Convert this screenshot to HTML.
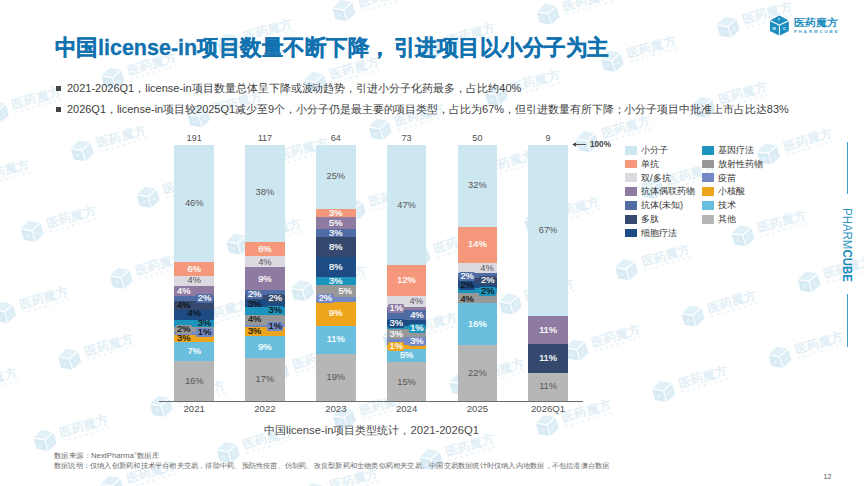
<!DOCTYPE html>
<html lang="zh"><head><meta charset="utf-8"><title>中国license-in项目数量不断下降</title>
<style>
html,body{margin:0;padding:0;background:#fff}
body{width:864px;height:486px;position:relative;overflow:hidden;font-family:"Liberation Sans", sans-serif;color:#333}
.a{position:absolute;white-space:nowrap;line-height:1}
.seg{position:absolute}
.lb{position:absolute;font-size:9.3px;line-height:9px;height:9px;-webkit-text-stroke:0.22px;width:40px;margin-left:-20px;margin-top:-4.5px;text-align:center;white-space:nowrap}
.lb.g{-webkit-text-stroke:0}
.lb span{display:inline-block;padding:0 1.5px;height:9px;line-height:9.2px;vertical-align:top;border-radius:1.5px}
.tot{position:absolute;font-size:9.1px;line-height:9px;width:40px;margin-left:-20px;text-align:center;color:#505050;top:133.8px}
.yr{position:absolute;font-size:9.6px;line-height:10px;width:60px;margin-left:-30px;text-align:center;color:#505050;top:404.3px}
.sw{position:absolute;width:12.4px;height:8.9px}
.lt{position:absolute;font-size:9.1px;line-height:10px;color:#333;white-space:nowrap}
#wm{position:absolute;left:0;top:0}
</style></head><body>
<svg id="wm" width="864" height="486" viewBox="0 0 864 486">
<defs><g id="w">
<g transform="translate(0.3 -0.2) scale(1.1)"><polygon points="0,-9.6 8.9,-5 0,-0.8 -8.9,-5" fill="#E2F0F7"/>
<polygon points="-9.4,-3.9 -0.5,0.3 -0.5,10.2 -9.4,5.8" fill="#D8EBF4"/>
<polygon points="9.4,-3.9 0.5,0.3 0.5,10.2 9.4,5.8" fill="#DCEDF5"/>
<text x="-7.2" y="4.7" font-size="4.2" font-weight="bold" fill="#EAF5FA" style="font-family:&quot;Liberation Sans&quot;,sans-serif">M</text><text x="3.5" y="4.8" font-size="4.2" font-weight="bold" fill="#EDF6FB" style="font-family:&quot;Liberation Sans&quot;,sans-serif">C</text></g>
<text x="16.8" y="1.5" font-size="11.8" font-weight="bold" textLength="50.3" lengthAdjust="spacingAndGlyphs" fill="#E3EFF6" style="font-family:&quot;Liberation Sans&quot;,sans-serif">医药魔方</text>
<text x="17.6" y="7.3" font-size="3.6" font-weight="bold" textLength="48" fill="#E6F1F7" style="font-family:&quot;Liberation Sans&quot;,sans-serif">PHARMCUBE</text>
</g></defs>
<use href="#w" transform="translate(-3.1 112.0) rotate(-16.5)"/>
<use href="#w" transform="translate(112.5 78.1) rotate(-16.5)"/>
<use href="#w" transform="translate(228.0 44.2) rotate(-16.5)"/>
<use href="#w" transform="translate(343.5 10.3) rotate(-16.5)"/>
<use href="#w" transform="translate(-34.6 184.9) rotate(-16.5)"/>
<use href="#w" transform="translate(81.9 150.7) rotate(-16.5)"/>
<use href="#w" transform="translate(198.4 116.6) rotate(-16.5)"/>
<use href="#w" transform="translate(314.9 82.4) rotate(-16.5)"/>
<use href="#w" transform="translate(431.4 48.2) rotate(-16.5)"/>
<use href="#w" transform="translate(547.8 14.0) rotate(-16.5)"/>
<use href="#w" transform="translate(31.8 231.2) rotate(-16.5)"/>
<use href="#w" transform="translate(147.8 197.1) rotate(-16.5)"/>
<use href="#w" transform="translate(263.8 163.1) rotate(-16.5)"/>
<use href="#w" transform="translate(379.8 129.1) rotate(-16.5)"/>
<use href="#w" transform="translate(495.8 95.0) rotate(-16.5)"/>
<use href="#w" transform="translate(611.8 61.0) rotate(-16.5)"/>
<use href="#w" transform="translate(727.8 27.0) rotate(-16.5)"/>
<use href="#w" transform="translate(4.3 312.3) rotate(-16.5)"/>
<use href="#w" transform="translate(120.8 278.1) rotate(-16.5)"/>
<use href="#w" transform="translate(237.3 243.9) rotate(-16.5)"/>
<use href="#w" transform="translate(353.8 209.8) rotate(-16.5)"/>
<use href="#w" transform="translate(470.2 175.6) rotate(-16.5)"/>
<use href="#w" transform="translate(586.7 141.4) rotate(-16.5)"/>
<use href="#w" transform="translate(703.2 107.2) rotate(-16.5)"/>
<use href="#w" transform="translate(-47.2 393.1) rotate(-16.5)"/>
<use href="#w" transform="translate(69.2 359.0) rotate(-16.5)"/>
<use href="#w" transform="translate(185.7 324.8) rotate(-16.5)"/>
<use href="#w" transform="translate(302.2 290.6) rotate(-16.5)"/>
<use href="#w" transform="translate(418.7 256.4) rotate(-16.5)"/>
<use href="#w" transform="translate(535.2 222.3) rotate(-16.5)"/>
<use href="#w" transform="translate(651.7 188.1) rotate(-16.5)"/>
<use href="#w" transform="translate(768.1 153.9) rotate(-16.5)"/>
<use href="#w" transform="translate(-71.7 474.4) rotate(-16.5)"/>
<use href="#w" transform="translate(44.6 440.3) rotate(-16.5)"/>
<use href="#w" transform="translate(160.9 406.2) rotate(-16.5)"/>
<use href="#w" transform="translate(277.2 372.0) rotate(-16.5)"/>
<use href="#w" transform="translate(393.5 337.9) rotate(-16.5)"/>
<use href="#w" transform="translate(509.8 303.8) rotate(-16.5)"/>
<use href="#w" transform="translate(626.1 269.7) rotate(-16.5)"/>
<use href="#w" transform="translate(742.4 235.6) rotate(-16.5)"/>
<use href="#w" transform="translate(-4.6 520.5) rotate(-16.5)"/>
<use href="#w" transform="translate(111.6 486.4) rotate(-16.5)"/>
<use href="#w" transform="translate(227.8 452.3) rotate(-16.5)"/>
<use href="#w" transform="translate(344.0 418.2) rotate(-16.5)"/>
<use href="#w" transform="translate(460.2 384.1) rotate(-16.5)"/>
<use href="#w" transform="translate(576.3 350.0) rotate(-16.5)"/>
<use href="#w" transform="translate(692.5 315.9) rotate(-16.5)"/>
<use href="#w" transform="translate(808.7 281.8) rotate(-16.5)"/>
<use href="#w" transform="translate(314.4 493.7) rotate(-16.5)"/>
<use href="#w" transform="translate(430.7 459.5) rotate(-16.5)"/>
<use href="#w" transform="translate(546.9 425.4) rotate(-16.5)"/>
<use href="#w" transform="translate(663.2 391.3) rotate(-16.5)"/>
<use href="#w" transform="translate(779.5 357.2) rotate(-16.5)"/>
</svg>
<div class="a" id="t1" style="left:54.5px;top:37.2px;font-size:22px;font-weight:bold;color:#1272B0;-webkit-text-stroke:0.3px #1272B0;transform-origin:0 50%;transform:scaleX(0.977)">中国license-in项目数量不断下降<span style="letter-spacing:3px">，</span>引进项目以小分子为主</div>
<div class="a" style="left:55.6px;top:86px;width:5px;height:5px;background:#444"></div>
<div class="a" style="left:55.6px;top:106.5px;width:5px;height:5px;background:#444"></div>
<div class="a" id="b1" style="left:66.5px;top:83.3px;font-size:11px;color:#404040">2021-2026Q1，license-in项目数量总体呈下降或波动趋势，引进小分子化药最多，占比约40%</div>
<div class="a" id="b2" style="left:66.5px;top:103.8px;font-size:11px;color:#404040">2026Q1，license-in项目较2025Q1减少至9个，小分子仍是最主要的项目类型，占比为67%，但引进数量有所下降；小分子项目中批准上市占比达83%</div>
<svg class="a" style="left:768px;top:13px" width="24" height="25" viewBox="0 0 24 25"><polygon points="11.4,2.6 20.3,7.2 11.4,11.4 2.5,7.2" fill="#1B8DBE"/><polygon points="2,8.3 10.9,12.5 10.9,22.4 2,18" fill="#1B8DBE"/><polygon points="20.8,8.3 11.9,12.5 11.9,22.4 20.8,18" fill="#1B8DBE"/><text x="10.1" y="8.3" font-size="3.2" font-weight="bold" fill="#cfe8f3" style="font-family:&quot;Liberation Sans&quot;,sans-serif">P</text><text x="4.2" y="16.9" font-size="4.2" font-weight="bold" fill="#e8f5fb" style="font-family:&quot;Liberation Sans&quot;,sans-serif">M</text><text x="14.9" y="17" font-size="4.2" font-weight="bold" fill="#e8f5fb" style="font-family:&quot;Liberation Sans&quot;,sans-serif">C</text></svg>
<div class="a" id="lg" style="left:793.6px;top:17.9px;font-size:9.8px;font-weight:bold;color:#1B8DBE;transform-origin:0 50%;transform:scaleX(1.1)">医药魔方</div>
<div class="a" id="lg2" style="left:794px;top:30.1px;font-size:4.3px;letter-spacing:1.95px;font-weight:bold;color:#3C9CC8">PHARMCUBE</div>
<div class="seg" style="left:174.4px;top:145.0px;width:39.5px;height:117.6px;background:#CDE7F1"></div>
<div class="seg" style="left:174.4px;top:262.3px;width:39.5px;height:14.0px;background:#F4977A"></div>
<div class="seg" style="left:174.4px;top:276.0px;width:39.5px;height:10.0px;background:#DDD9E1"></div>
<div class="seg" style="left:174.4px;top:285.7px;width:39.5px;height:10.6px;background:#8F7BA2"></div>
<div class="seg" style="left:174.4px;top:296.0px;width:39.5px;height:5.3px;background:#4F6CA4"></div>
<div class="seg" style="left:174.4px;top:301.0px;width:39.5px;height:8.8px;background:#34496D"></div>
<div class="seg" style="left:174.4px;top:309.5px;width:39.5px;height:10.4px;background:#1D4C84"></div>
<div class="seg" style="left:174.4px;top:319.6px;width:39.5px;height:7.5px;background:#1C94BE"></div>
<div class="seg" style="left:174.4px;top:326.8px;width:39.5px;height:5.6px;background:#989898"></div>
<div class="seg" style="left:174.4px;top:332.1px;width:39.5px;height:3.0px;background:#7389C5"></div>
<div class="seg" style="left:174.4px;top:334.8px;width:39.5px;height:7.4px;background:#EFA51B"></div>
<div class="seg" style="left:174.4px;top:341.9px;width:39.5px;height:19.8px;background:#6BBFDE"></div>
<div class="seg" style="left:174.4px;top:361.4px;width:39.5px;height:39.5px;background:#B6B6B6"></div>
<div class="tot" style="left:194.2px">191</div>
<div class="yr" style="left:194.2px">2021</div>
<div class="seg" style="left:245.2px;top:145.0px;width:39.5px;height:96.8px;background:#CDE7F1"></div>
<div class="seg" style="left:245.2px;top:241.5px;width:39.5px;height:15.2px;background:#F4977A"></div>
<div class="seg" style="left:245.2px;top:256.4px;width:39.5px;height:10.9px;background:#DDD9E1"></div>
<div class="seg" style="left:245.2px;top:267.0px;width:39.5px;height:22.9px;background:#8F7BA2"></div>
<div class="seg" style="left:245.2px;top:289.6px;width:39.5px;height:5.2px;background:#4F6CA4"></div>
<div class="seg" style="left:245.2px;top:294.5px;width:39.5px;height:5.3px;background:#34496D"></div>
<div class="seg" style="left:245.2px;top:299.5px;width:39.5px;height:7.8px;background:#1D4C84"></div>
<div class="seg" style="left:245.2px;top:307.0px;width:39.5px;height:7.9px;background:#1C94BE"></div>
<div class="seg" style="left:245.2px;top:314.6px;width:39.5px;height:10.4px;background:#989898"></div>
<div class="seg" style="left:245.2px;top:324.7px;width:39.5px;height:2.8px;background:#7389C5"></div>
<div class="seg" style="left:245.2px;top:327.2px;width:39.5px;height:8.9px;background:#EFA51B"></div>
<div class="seg" style="left:245.2px;top:335.8px;width:39.5px;height:22.3px;background:#6BBFDE"></div>
<div class="seg" style="left:245.2px;top:357.8px;width:39.5px;height:43.1px;background:#B6B6B6"></div>
<div class="tot" style="left:264.9px">117</div>
<div class="yr" style="left:264.9px">2022</div>
<div class="seg" style="left:316.0px;top:145.0px;width:39.5px;height:63.9px;background:#CDE7F1"></div>
<div class="seg" style="left:316.0px;top:208.6px;width:39.5px;height:8.5px;background:#F4977A"></div>
<div class="seg" style="left:316.0px;top:216.8px;width:39.5px;height:12.8px;background:#8F7BA2"></div>
<div class="seg" style="left:316.0px;top:229.3px;width:39.5px;height:8.2px;background:#4F6CA4"></div>
<div class="seg" style="left:316.0px;top:237.2px;width:39.5px;height:20.4px;background:#34496D"></div>
<div class="seg" style="left:316.0px;top:257.3px;width:39.5px;height:19.9px;background:#1D4C84"></div>
<div class="seg" style="left:316.0px;top:276.9px;width:39.5px;height:8.7px;background:#1C94BE"></div>
<div class="seg" style="left:316.0px;top:285.3px;width:39.5px;height:12.0px;background:#989898"></div>
<div class="seg" style="left:316.0px;top:297.0px;width:39.5px;height:5.2px;background:#7389C5"></div>
<div class="seg" style="left:316.0px;top:301.9px;width:39.5px;height:24.1px;background:#EFA51B"></div>
<div class="seg" style="left:316.0px;top:325.7px;width:39.5px;height:28.2px;background:#6BBFDE"></div>
<div class="seg" style="left:316.0px;top:353.6px;width:39.5px;height:47.3px;background:#B6B6B6"></div>
<div class="tot" style="left:335.8px">64</div>
<div class="yr" style="left:335.8px">2023</div>
<div class="seg" style="left:386.8px;top:145.0px;width:39.5px;height:119.8px;background:#CDE7F1"></div>
<div class="seg" style="left:386.8px;top:264.5px;width:39.5px;height:31.4px;background:#F4977A"></div>
<div class="seg" style="left:386.8px;top:295.6px;width:39.5px;height:11.4px;background:#DDD9E1"></div>
<div class="seg" style="left:386.8px;top:306.7px;width:39.5px;height:3.4px;background:#8F7BA2"></div>
<div class="seg" style="left:386.8px;top:309.8px;width:39.5px;height:10.5px;background:#4F6CA4"></div>
<div class="seg" style="left:386.8px;top:320.0px;width:39.5px;height:6.7px;background:#1D4C84"></div>
<div class="seg" style="left:386.8px;top:326.4px;width:39.5px;height:3.3px;background:#1C94BE"></div>
<div class="seg" style="left:386.8px;top:329.4px;width:39.5px;height:7.5px;background:#989898"></div>
<div class="seg" style="left:386.8px;top:336.6px;width:39.5px;height:8.5px;background:#7389C5"></div>
<div class="seg" style="left:386.8px;top:344.8px;width:39.5px;height:4.0px;background:#EFA51B"></div>
<div class="seg" style="left:386.8px;top:348.5px;width:39.5px;height:14.2px;background:#6BBFDE"></div>
<div class="seg" style="left:386.8px;top:362.4px;width:39.5px;height:38.5px;background:#B6B6B6"></div>
<div class="tot" style="left:406.6px">73</div>
<div class="yr" style="left:406.6px">2024</div>
<div class="seg" style="left:457.6px;top:145.0px;width:39.5px;height:82.4px;background:#CDE7F1"></div>
<div class="seg" style="left:457.6px;top:227.1px;width:39.5px;height:35.8px;background:#F4977A"></div>
<div class="seg" style="left:457.6px;top:262.6px;width:39.5px;height:10.3px;background:#DDD9E1"></div>
<div class="seg" style="left:457.6px;top:272.6px;width:39.5px;height:5.3px;background:#4F6CA4"></div>
<div class="seg" style="left:457.6px;top:277.6px;width:39.5px;height:5.3px;background:#34496D"></div>
<div class="seg" style="left:457.6px;top:282.6px;width:39.5px;height:5.3px;background:#1D4C84"></div>
<div class="seg" style="left:457.6px;top:287.6px;width:39.5px;height:5.7px;background:#1C94BE"></div>
<div class="seg" style="left:457.6px;top:293.0px;width:39.5px;height:10.7px;background:#989898"></div>
<div class="seg" style="left:457.6px;top:303.4px;width:39.5px;height:41.9px;background:#6BBFDE"></div>
<div class="seg" style="left:457.6px;top:345.0px;width:39.5px;height:55.9px;background:#B6B6B6"></div>
<div class="tot" style="left:477.4px">50</div>
<div class="yr" style="left:477.4px">2025</div>
<div class="seg" style="left:528.4px;top:145.0px;width:39.5px;height:171.1px;background:#CDE7F1"></div>
<div class="seg" style="left:528.4px;top:315.8px;width:39.5px;height:28.9px;background:#8F7BA2"></div>
<div class="seg" style="left:528.4px;top:344.4px;width:39.5px;height:28.7px;background:#34496D"></div>
<div class="seg" style="left:528.4px;top:372.8px;width:39.5px;height:28.1px;background:#B6B6B6"></div>
<div class="tot" style="left:548.1px">9</div>
<div class="yr" style="left:548.1px">2026Q1</div>
<div class="a" style="left:159.3px;top:400.6px;width:423.6px;height:1.1px;background:#6b6b6b"></div>
<div class="lb g" style="left:194.2px;top:203.5px;color:#555555">46%</div>
<div class="lb" style="left:194.2px;top:269.2px;color:#ffffff">6%</div>
<div class="lb g" style="left:194.2px;top:280.9px;color:#555555">4%</div>
<div class="lb" style="left:183.8px;top:291.2px;color:#ffffff">4%</div>
<div class="lb" style="left:204.5px;top:298.2px;color:#ffffff"><span style="background:#4F6CA4">2%</span></div>
<div class="lb" style="left:183.8px;top:305.4px;color:#111111">4%</div>
<div class="lb" style="left:194.2px;top:313.6px;color:#111111">4%</div>
<div class="lb" style="left:204.5px;top:323.4px;color:#111111">3%</div>
<div class="lb" style="left:183.8px;top:329.3px;color:#111111"><span style="background:#989898">2%</span></div>
<div class="lb" style="left:204.5px;top:332.8px;color:#111111"><span style="background:#7389C5">1%</span></div>
<div class="lb" style="left:183.8px;top:338.2px;color:#111111">3%</div>
<div class="lb" style="left:194.2px;top:351.5px;color:#ffffff">7%</div>
<div class="lb g" style="left:194.2px;top:381.0px;color:#555555">16%</div>
<div class="lb g" style="left:264.9px;top:192.8px;color:#555555">38%</div>
<div class="lb" style="left:264.9px;top:249.0px;color:#ffffff">6%</div>
<div class="lb g" style="left:264.9px;top:262.0px;color:#555555">4%</div>
<div class="lb" style="left:264.9px;top:279.0px;color:#ffffff">9%</div>
<div class="lb" style="left:254.6px;top:294.0px;color:#ffffff"><span style="background:#4F6CA4">2%</span></div>
<div class="lb" style="left:275.2px;top:298.0px;color:#ffffff"><span style="background:#34496D">2%</span></div>
<div class="lb" style="left:254.6px;top:304.0px;color:#111111">3%</div>
<div class="lb" style="left:275.2px;top:310.2px;color:#111111"><span style="background:#1C94BE">3%</span></div>
<div class="lb" style="left:254.6px;top:319.9px;color:#111111">4%</div>
<div class="lb" style="left:275.2px;top:326.0px;color:#111111"><span style="background:#7389C5">1%</span></div>
<div class="lb" style="left:254.6px;top:331.9px;color:#111111">3%</div>
<div class="lb" style="left:264.9px;top:347.0px;color:#ffffff">9%</div>
<div class="lb g" style="left:264.9px;top:379.5px;color:#555555">17%</div>
<div class="lb g" style="left:335.8px;top:176.7px;color:#555555">25%</div>
<div class="lb" style="left:335.8px;top:213.2px;color:#ffffff">3%</div>
<div class="lb" style="left:335.8px;top:223.4px;color:#ffffff">5%</div>
<div class="lb" style="left:335.8px;top:233.3px;color:#ffffff">3%</div>
<div class="lb" style="left:335.8px;top:247.5px;color:#ffffff">8%</div>
<div class="lb" style="left:335.8px;top:267.2px;color:#ffffff">8%</div>
<div class="lb" style="left:335.8px;top:281.0px;color:#ffffff">3%</div>
<div class="lb" style="left:345.2px;top:291.1px;color:#ffffff">5%</div>
<div class="lb" style="left:325.4px;top:298.9px;color:#ffffff"><span style="background:#7389C5">2%</span></div>
<div class="lb" style="left:335.8px;top:313.6px;color:#ffffff">9%</div>
<div class="lb" style="left:335.8px;top:339.5px;color:#ffffff">11%</div>
<div class="lb g" style="left:335.8px;top:377.3px;color:#555555">19%</div>
<div class="lb g" style="left:406.6px;top:205.5px;color:#555555">47%</div>
<div class="lb" style="left:406.6px;top:280.2px;color:#ffffff">12%</div>
<div class="lb g" style="left:416.2px;top:301.2px;color:#555555">4%</div>
<div class="lb" style="left:396.2px;top:308.0px;color:#ffffff"><span style="background:#8F7BA2">1%</span></div>
<div class="lb" style="left:416.9px;top:315.5px;color:#ffffff">4%</div>
<div class="lb" style="left:396.2px;top:323.8px;color:#ffffff"><span style="background:#1D4C84">3%</span></div>
<div class="lb" style="left:416.9px;top:328.7px;color:#ffffff"><span style="background:#1C94BE">1%</span></div>
<div class="lb" style="left:396.2px;top:334.2px;color:#ffffff"><span style="background:#989898">3%</span></div>
<div class="lb" style="left:416.9px;top:341.1px;color:#ffffff"><span style="background:#7389C5">3%</span></div>
<div class="lb" style="left:396.2px;top:346.6px;color:#ffffff"><span style="background:#EFA51B">1%</span></div>
<div class="lb" style="left:406.6px;top:355.6px;color:#ffffff">5%</div>
<div class="lb g" style="left:406.6px;top:382.2px;color:#555555">15%</div>
<div class="lb g" style="left:477.4px;top:185.6px;color:#555555">32%</div>
<div class="lb" style="left:477.4px;top:244.7px;color:#ffffff">14%</div>
<div class="lb g" style="left:487.0px;top:268.0px;color:#555555">4%</div>
<div class="lb" style="left:467.1px;top:276.0px;color:#ffffff"><span style="background:#4F6CA4">2%</span></div>
<div class="lb" style="left:487.7px;top:280.8px;color:#ffffff"><span style="background:#34496D">2%</span></div>
<div class="lb" style="left:467.1px;top:285.3px;color:#111111"><span style="background:#1D4C84">2%</span></div>
<div class="lb" style="left:487.7px;top:291.0px;color:#111111"><span style="background:#1C94BE">2%</span></div>
<div class="lb" style="left:467.1px;top:299.5px;color:#111111">4%</div>
<div class="lb" style="left:477.4px;top:324.0px;color:#ffffff">16%</div>
<div class="lb g" style="left:477.4px;top:373.0px;color:#555555">22%</div>
<div class="lb g" style="left:548.1px;top:230.8px;color:#555555">67%</div>
<div class="lb" style="left:548.1px;top:330.0px;color:#ffffff">11%</div>
<div class="lb" style="left:548.1px;top:358.8px;color:#ffffff">11%</div>
<div class="lb g" style="left:548.1px;top:386.8px;color:#555555">11%</div>
<svg class="a" style="left:571px;top:140px" width="16" height="9" viewBox="0 0 16 9"><path d="M15,4.5 L3,4.5" stroke="#444" stroke-width="0.9"/><polygon points="1.2,4.5 5.2,2.2 5.2,6.8" fill="#444"/></svg>
<div class="a" style="left:590px;top:140.9px;font-size:8.2px;font-weight:bold;color:#444">100%</div>
<div class="sw" style="left:624.6px;top:145.8px;background:#CDE7F1"></div>
<div class="lt" style="left:641px;top:144.9px">小分子</div>
<div class="sw" style="left:624.6px;top:159.6px;background:#F4977A"></div>
<div class="lt" style="left:641px;top:158.7px">单抗</div>
<div class="sw" style="left:624.6px;top:173.4px;background:#DDD9E1"></div>
<div class="lt" style="left:641px;top:172.5px">双/多抗</div>
<div class="sw" style="left:624.6px;top:187.1px;background:#8F7BA2"></div>
<div class="lt" style="left:641px;top:186.2px">抗体偶联药物</div>
<div class="sw" style="left:624.6px;top:200.9px;background:#4F6CA4"></div>
<div class="lt" style="left:641px;top:200.0px">抗体(未知)</div>
<div class="sw" style="left:624.6px;top:214.7px;background:#34496D"></div>
<div class="lt" style="left:641px;top:213.8px">多肽</div>
<div class="sw" style="left:624.6px;top:228.5px;background:#1D4C84"></div>
<div class="lt" style="left:641px;top:227.6px">细胞疗法</div>
<div class="sw" style="left:701.8px;top:145.8px;background:#1C94BE"></div>
<div class="lt" style="left:718.3px;top:144.9px">基因疗法</div>
<div class="sw" style="left:701.8px;top:159.6px;background:#989898"></div>
<div class="lt" style="left:718.3px;top:158.7px">放射性药物</div>
<div class="sw" style="left:701.8px;top:173.4px;background:#7389C5"></div>
<div class="lt" style="left:718.3px;top:172.5px">疫苗</div>
<div class="sw" style="left:701.8px;top:187.1px;background:#EFA51B"></div>
<div class="lt" style="left:718.3px;top:186.2px">小核酸</div>
<div class="sw" style="left:701.8px;top:200.9px;background:#6BBFDE"></div>
<div class="lt" style="left:718.3px;top:200.0px">技术</div>
<div class="sw" style="left:701.8px;top:214.7px;background:#B6B6B6"></div>
<div class="lt" style="left:718.3px;top:213.8px">其他</div>
<div class="a" id="cap" style="left:263.7px;top:424.6px;font-size:11.2px;color:#4a4a4a">中国license-in项目类型统计，2021-2026Q1</div>
<div class="a" style="left:846.8px;top:141.5px;width:1px;height:52.5px;background:#3D9DC9"></div>
<div class="a" style="left:846.8px;top:294px;width:1px;height:52.5px;background:#3D9DC9"></div>
<div class="a" id="vb" style="left:853.4px;top:207.7px;font-size:12.4px;color:#1B8DBE;transform-origin:0 0;transform:rotate(90deg) scaleX(0.925)"><span style="color:#2E96C5">PHARM</span><b>CUBE</b></div>
<div class="a" id="f1" style="left:54px;top:451.9px;font-size:7.3px;color:#6a6a6a;transform-origin:0 50%;transform:scaleX(1.055)">数据来源：NextPharma<span style="font-size:4px;vertical-align:top">®</span>数据库</div>
<div class="a" id="f2" style="left:54px;top:462.1px;font-size:7.3px;color:#6a6a6a;transform-origin:0 50%;transform:scaleX(1.0306)">数据说明：仅纳入创新药和技术平台相关交易，排除中药、预防性疫苗、仿制药、改良型新药和生物类似药相关交易。中国交易数据统计时仅纳入内地数据，不包括港澳台数据</div>
<div class="a" style="left:823.5px;top:473.2px;font-size:7px;color:#555">12</div>
<script>(function(){var F=[["t1",553.5],["b1",454.3],["b2",721.8],["cap",215],["f1",105],["f2",555.5],["lg",44]];for(var i=0;i<F.length;i++){var e=document.getElementById(F[i][0]);if(!e)continue;e.style.transform="none";var w=e.getBoundingClientRect().width;if(w>0){e.style.transformOrigin="0 50%";e.style.transform="scaleX("+(F[i][1]/w).toFixed(4)+")";}}})();</script>
</body></html>
